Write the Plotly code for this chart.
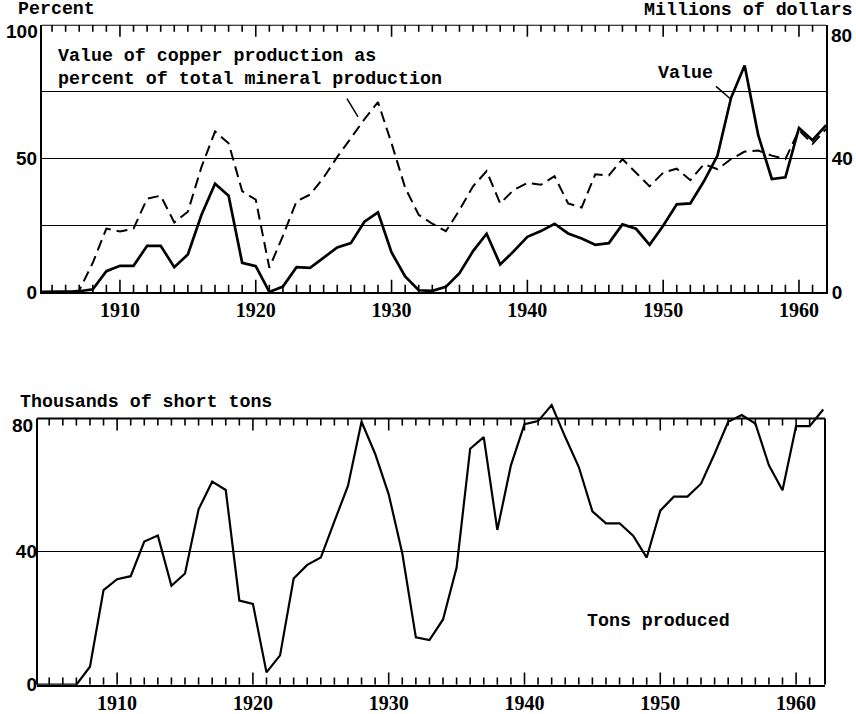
import plotly.graph_objects as go

W, H = 856, 734

years = list(range(1904, 1963))

value_millions = [0, 0, 0, 0.2, 0.8, 6.2, 7.8, 7.8, 13.8, 13.8,
                  7.4, 11.2, 23.0, 32.4, 28.8, 8.7, 7.7, 0.0, 1.6, 7.4,
                  7.2, 10.2, 13.3, 14.6, 21.0, 23.8, 11.8, 4.6, 0.5, 0.3,
                  1.5, 5.6, 12.2, 17.4, 8.2, 12.2, 16.5, 18.2, 20.4, 17.5,
                  16.0, 14.1, 14.6, 20.2, 18.9, 14.1, 19.8, 26.2, 26.5, 33.1,
                  40.8, 58.1, 67.8, 46.9, 33.8, 34.3, 49.1, 45.4, 49.9]

percent_of_total = [0, 0, 0, 0.5, 10.9, 23.7, 22.6, 23.7, 34.9, 36.0,
                    26.0, 30.0, 46.7, 60.0, 55.6, 37.7, 34.5, 9.0, 21.0, 33.9,
                    36.4, 42.8, 50.5, 57.5, 64.6, 71.0, 55.6, 39.0, 28.8, 25.5,
                    22.7, 30.6, 39.5, 45.2, 33.1, 38.2, 40.8, 40.1, 43.3, 33.1,
                    31.6, 44.0, 43.6, 49.7, 44.6, 39.5, 44.6, 46.1, 41.8, 47.8,
                    45.9, 49.7, 52.5, 52.9, 51.0, 49.7, 60.5, 55.4, 61.0]

tons_thousands = [0, 0, 0, 0, 5.4, 28.4, 31.7, 32.6, 43.0, 44.8,
                  29.7, 33.4, 52.7, 61.0, 58.5, 25.3, 24.3, 3.7, 8.8, 31.9,
                  36.0, 38.2, 49.1, 59.7, 79.0, 69.4, 57.2, 39.5, 14.2, 13.4,
                  19.6, 35.2, 70.9, 74.4, 46.5, 65.9, 78.3, 79.2, 84.0, 74.4,
                  65.4, 52.1, 48.5, 48.5, 44.8, 38.2, 52.3, 56.5, 56.5, 60.4,
                  69.4, 79.0, 81.0, 78.5, 65.9, 58.4, 77.7, 77.7, 82.7]

decade_ticks = [1910, 1920, 1930, 1940, 1950, 1960]
decade_labels = ["1910", "1920", "1930", "1940", "1950", "1960"]
tick_years = list(range(1905, 1962))
pct_tickvals = [0, 25, 50, 75, 100]
pct_ticktext = ["0", "", "50", "", ""]
usd_tickvals = [0, 20, 40, 60, 80]
usd_ticktext = ["0", "", "40", "", ""]
tons_tickvals = [0, 40, 80]
tons_ticktext = ["0", "40", ""]
# top-of-scale labels, printed a little below their lines in the original
pct_top_label, usd_top_label, tons_top_label = "100", "80", "80"

# the photographed page is squeezed vertically; map target pixel rows
# to figure rows
SQ, OFF = 0.973, 8.9


def px(x):
    return x / W


def py(y):
    return 1 - (y / SQ - OFF) / H


MONO = "Liberation Mono"
SERIF = "Liberation Serif"
SANS = "Liberation Sans"

TOP_X = [px(42), px(826)]
TOP_RANGE = [1904.26, 1961.99]
BOT_X = [px(37), px(825)]
BOT_RANGE = [1904.1, 1962.13]

fig = go.Figure()

fig.add_trace(go.Scatter(x=years, y=percent_of_total, mode="lines",
                         line=dict(color="black", width=2, dash="11px,6px"),
                         xaxis="x", yaxis="y", showlegend=False,
                         hoverinfo="skip"))
fig.add_trace(go.Scatter(x=years, y=value_millions, mode="lines",
                         line=dict(color="black", width=2.7),
                         xaxis="x", yaxis="y2", showlegend=False,
                         hoverinfo="skip"))
fig.add_trace(go.Scatter(x=years, y=tons_thousands, mode="lines",
                         line=dict(color="black", width=2.2),
                         xaxis="x2", yaxis="y3", showlegend=False,
                         hoverinfo="skip"))

tickfont_x = dict(family=SERIF, size=20, color="black", weight="bold")
ytickfont = dict(family=SANS, size=19, color="black", weight="bold")


def year_axis(domain, rng, anchor):
    return dict(domain=domain, range=rng, anchor=anchor,
                tickvals=decade_ticks, ticktext=decade_labels, ticks="",
                showline=True, linecolor="black", linewidth=2,
                showgrid=False, zeroline=False, tickfont=tickfont_x,
                ticklabelstandoff=-1, fixedrange=True)


fig.update_layout(
    width=W, height=H,
    margin=dict(l=0, r=0, t=0, b=0),
    paper_bgcolor="white", plot_bgcolor="rgba(0,0,0,0)",
    hovermode=False,
    xaxis=year_axis(TOP_X, TOP_RANGE, "y"),
    yaxis=dict(domain=[py(297), py(33)], range=[0, 100],
               tickvals=pct_tickvals, ticktext=pct_ticktext,
               ticks="", showgrid=True, gridcolor="black", gridwidth=1,
               showline=True, linecolor="black", linewidth=2,
               zeroline=False, tickfont=ytickfont, anchor="x",
               ticklabelstandoff=-1, fixedrange=True),
    yaxis2=dict(overlaying="y", side="right", anchor="x", range=[0, 80],
                tickvals=usd_tickvals, ticktext=usd_ticktext,
                ticks="", showgrid=False, zeroline=False,
                showline=True, linecolor="black", linewidth=2,
                tickfont=ytickfont, fixedrange=True),
    xaxis2=year_axis(BOT_X, BOT_RANGE, "y3"),
    yaxis3=dict(domain=[py(685), py(395.7)], range=[0, 88],
                tickvals=tons_tickvals, ticktext=tons_ticktext,
                ticks="", showgrid=True, gridcolor="black", gridwidth=1,
                showline=False, zeroline=False, tickfont=ytickfont,
                anchor="x2", ticklabelstandoff=-1, fixedrange=True),
)


def tick_path(edge, inward):
    parts = []
    for yr in tick_years:
        ln = inward[1] if yr % 10 == 0 else inward[0]
        parts.append(f"M{yr},{edge}L{yr},{edge + ln}")
    return "".join(parts)


# year tick marks: (x axis, y axis, edge value, minor len, major len)
tick_rows = [
    ("x", "y", 0, 2.65, 4.55),
    ("x", "y", 100, -2.65, -4.55),
    ("x2", "y3", 0, 2.13, 3.65),
    ("x2", "y3", 80, -2.13, -3.65),
]
for xr, yr_, edge, mn, mj in tick_rows:
    fig.add_shape(type="path", xref=xr, yref=yr_,
                  path=tick_path(edge, (mn, mj)),
                  line=dict(color="black", width=1.6))

# frame of the bottom chart: top line at 80, left and right borders
fig.add_shape(type="line", xref="x2 domain", yref="y3",
              x0=0, x1=1, y0=80, y1=80,
              line=dict(color="black", width=2))
for xd in (0, 1):
    fig.add_shape(type="line", xref="x2 domain", yref="y3",
                  x0=xd, x1=xd, y0=0, y1=80,
                  line=dict(color="black", width=2))
# heavier top border of the top chart
fig.add_shape(type="line", xref="x domain", yref="y",
              x0=0, x1=1, y0=100, y1=100,
              line=dict(color="black", width=2))

# leader lines for the labels
fig.add_shape(type="line", xref="paper", yref="paper",
              x0=px(347), y0=py(106), x1=px(358), y1=py(124),
              line=dict(color="black", width=1.5))
fig.add_shape(type="line", xref="paper", yref="paper",
              x0=px(716), y0=py(94), x1=px(730), y1=py(106),
              line=dict(color="black", width=1.5))

# top-of-scale numbers, sitting just below the top lines
fig.add_annotation(text=pct_top_label, xref="paper", yref="y",
                   x=px(40), y=97.6, xanchor="right", yanchor="middle",
                   showarrow=False, font=ytickfont)
fig.add_annotation(text=usd_top_label, xref="paper", yref="y2",
                   x=px(829), y=76.9, xanchor="left", yanchor="middle",
                   showarrow=False, font=ytickfont)
fig.add_annotation(text=tons_top_label, xref="paper", yref="y3",
                   x=px(35), y=77.9, xanchor="right", yanchor="middle",
                   showarrow=False, font=ytickfont)

labfont = dict(family=MONO, size=18.3, color="black", weight="bold")


def label(text, x, y, xanchor="left"):
    fig.add_annotation(text=text, xref="paper", yref="paper",
                       x=px(x), y=py(y), xanchor=xanchor, yanchor="middle",
                       showarrow=False, font=labfont)


label("Percent", 16, 18)
label("Millions of dollars", 854, 19, xanchor="right")
label("Value of copper production as", 56, 64)
label("percent of total mineral production", 56, 87)
label("Value", 656, 81)
label("Thousands of short tons", 18, 406)
label("Tons produced", 585, 622)

fig.write_html("out.html",
               config={"displayModeBar": False, "staticPlot": True},
               post_script="document.body.style.margin='0';"
                           "document.body.style.overflow='hidden';")
